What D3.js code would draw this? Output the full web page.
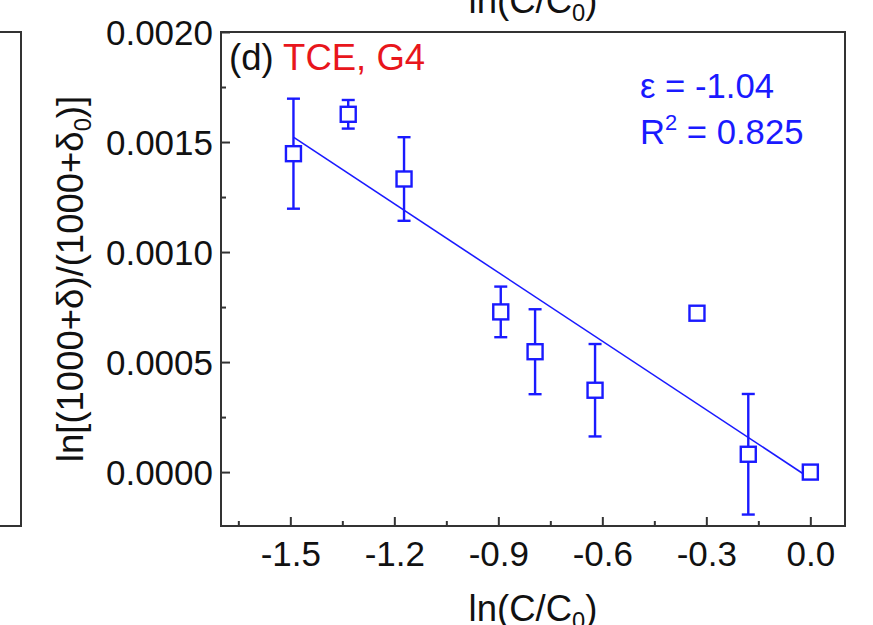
<!DOCTYPE html>
<html>
<head>
<meta charset="utf-8">
<script src="https://cdn.jsdelivr.net/npm/d3@7"></script>
<style>
  html, body { margin: 0; padding: 0; background: #fff; }
  svg { display: block; }
  text { font-family: "Liberation Sans", Arial, sans-serif; }
</style>
</head>
<body>
<svg id="chart" width="873" height="625"></svg>
<script>
// ---- data ----
const xVals = [-1.491, -1.333, -1.172, -0.893, -0.794, -0.621, -0.327, -0.179, 0.0];
const yVals = [0.001447, 0.001626, 0.001332, 0.000728, 0.000547, 0.000372, 0.000722, 0.000081, 0.0];
const yErr  = [0.00025, 0.000065, 0.00019, 0.000115, 0.000193, 0.00021, 0.00003, 0.000274, 0];
const fitX = [-1.49, 0.0];
const fitY = [0.001521, -0.000029];
const xTicks = [-1.5, -1.2, -0.9, -0.6, -0.3, 0.0];
const xTickLabels = ["-1.5", "-1.2", "-0.9", "-0.6", "-0.3", "0.0"];
const xMinorTicks = [-1.65, -1.35, -1.05, -0.75, -0.45, -0.15];
const yTicks = [0.0, 0.0005, 0.0010, 0.0015, 0.0020];
const yTickLabels = ["0.0000", "0.0005", "0.0010", "0.0015", "0.0020"];
const yMinorTicks = [0.00025, 0.00075, 0.00125, 0.00175];
const panelLabel = "(d)";
const seriesLabel = "TCE, G4";
const epsText = "ε = -1.04";
const r2Value = "0.825";

// ---- layout ----
const L = 221, R = 845, T = 32, B = 526;
const blue = "#1a1aff";
const FT = 35;   // tick labels
const FS = 36.5; // titles & annotations

const svg = d3.select("#chart");
const x = d3.scaleLinear().domain([-1.7, 0.1]).range([L, R]);
const y = d3.scaleLinear().domain([-0.000245, 0.002]).range([B, T]);

// partial neighbouring panel frame (left) and its x title (top)
svg.append("path")
  .attr("d", `M0,${T} H21 V${B} H0`)
  .attr("fill", "none").attr("stroke", "#333").attr("stroke-width", 2);
const topTitle = svg.append("text").attr("x", 533).attr("y", 13)
  .attr("text-anchor", "middle").attr("font-size", FS).attr("fill", "#111");
topTitle.append("tspan").text("ln(C/C");
topTitle.append("tspan").attr("font-size", FS * 0.65).attr("dy", 8).text("0");
topTitle.append("tspan").attr("dy", -8).text(")");

// axes
const xAxis = svg.append("g").attr("transform", `translate(0,${B})`)
  .call(d3.axisBottom(x).tickValues(xTicks).tickSize(-9)
    .tickFormat((d, i) => xTickLabels[i]));
xAxis.select(".domain").remove();
xAxis.selectAll("line").attr("stroke", "#333").attr("stroke-width", 2);
xAxis.selectAll("text").attr("font-size", FT).attr("fill", "#111")
  .attr("y", 40).attr("dy", 0)
  .attr("font-family", "'Liberation Sans', Arial, sans-serif");

const xMinor = svg.append("g").attr("transform", `translate(0,${B})`)
  .call(d3.axisBottom(x).tickValues(xMinorTicks).tickSize(-5).tickFormat(""));
xMinor.select(".domain").remove();
xMinor.selectAll("line").attr("stroke", "#333").attr("stroke-width", 2);

const yAxis = svg.append("g").attr("transform", `translate(${L},0)`)
  .call(d3.axisLeft(y).tickValues(yTicks).tickSize(-9)
    .tickFormat((d, i) => yTickLabels[i]));
yAxis.select(".domain").remove();
yAxis.selectAll("line").attr("stroke", "#333").attr("stroke-width", 2);
yAxis.selectAll("text").attr("font-size", FT).attr("fill", "#111")
  .attr("x", -8).attr("dy", "0.36em")
  .attr("font-family", "'Liberation Sans', Arial, sans-serif");

const yMinor = svg.append("g").attr("transform", `translate(${L},0)`)
  .call(d3.axisLeft(y).tickValues(yMinorTicks).tickSize(-5).tickFormat(""));
yMinor.select(".domain").remove();
yMinor.selectAll("line").attr("stroke", "#333").attr("stroke-width", 2);

// frame
svg.append("rect").attr("x", L).attr("y", T).attr("width", R - L).attr("height", B - T)
  .attr("fill", "none").attr("stroke", "#333").attr("stroke-width", 2);

// axis titles
const xt = svg.append("text").attr("x", 533).attr("y", 621)
  .attr("text-anchor", "middle").attr("font-size", FS).attr("fill", "#111");
xt.append("tspan").text("ln(C/C");
xt.append("tspan").attr("font-size", FS * 0.65).attr("dy", 8).text("0");
xt.append("tspan").attr("dy", -8).text(")");

const yt = svg.append("text")
  .attr("transform", `translate(83,${(T + B) / 2}) rotate(-90)`)
  .attr("text-anchor", "middle").attr("font-size", FS).attr("fill", "#111");
yt.append("tspan").text("ln[(1000+δ)/(1000+δ");
yt.append("tspan").attr("font-size", FS * 0.65).attr("dy", 8).text("0");
yt.append("tspan").attr("dy", -8).text(")]");

// fit line
svg.append("line")
  .attr("x1", x(fitX[0])).attr("y1", y(fitY[0]))
  .attr("x2", x(fitX[1])).attr("y2", y(fitY[1]))
  .attr("stroke", blue).attr("stroke-width", 1.6);

// error bars
const pts = xVals.map((v, i) => ({ x: v, y: yVals[i], e: yErr[i] }));
const eb = svg.append("g").attr("stroke", blue).attr("stroke-width", 2.4).attr("fill", "none");
pts.filter(d => d.e > 0).forEach(d => {
  const cx = x(d.x), y1 = y(d.y + d.e), y2 = y(d.y - d.e);
  eb.append("line").attr("x1", cx).attr("x2", cx).attr("y1", y1).attr("y2", y2);
  eb.append("line").attr("x1", cx - 6.5).attr("x2", cx + 6.5).attr("y1", y1).attr("y2", y1);
  eb.append("line").attr("x1", cx - 6.5).attr("x2", cx + 6.5).attr("y1", y2).attr("y2", y2);
});

// markers
const s = 15;
svg.append("g").selectAll("rect").data(pts).join("rect")
  .attr("x", d => x(d.x) - s / 2).attr("y", d => y(d.y) - s / 2)
  .attr("width", s).attr("height", s)
  .attr("fill", "#fff").attr("stroke", blue).attr("stroke-width", 2.4);

// annotations
const lab = svg.append("text").attr("x", 229).attr("y", 70).attr("font-size", FS);
lab.append("tspan").attr("fill", "#111").text(panelLabel + " ");
lab.append("tspan").attr("fill", "#e8161c").text(seriesLabel);

svg.append("text").attr("x", 640).attr("y", 98).attr("font-size", FS * 0.95)
  .attr("fill", blue).text(epsText);
const r2 = svg.append("text").attr("x", 640).attr("y", 144).attr("font-size", FS * 0.95).attr("fill", blue);
r2.append("tspan").text("R");
r2.append("tspan").attr("font-size", FS * 0.6).attr("dy", -14).text("2");
r2.append("tspan").attr("dy", 14).text(" = " + r2Value);
</script>
</body>
</html>
